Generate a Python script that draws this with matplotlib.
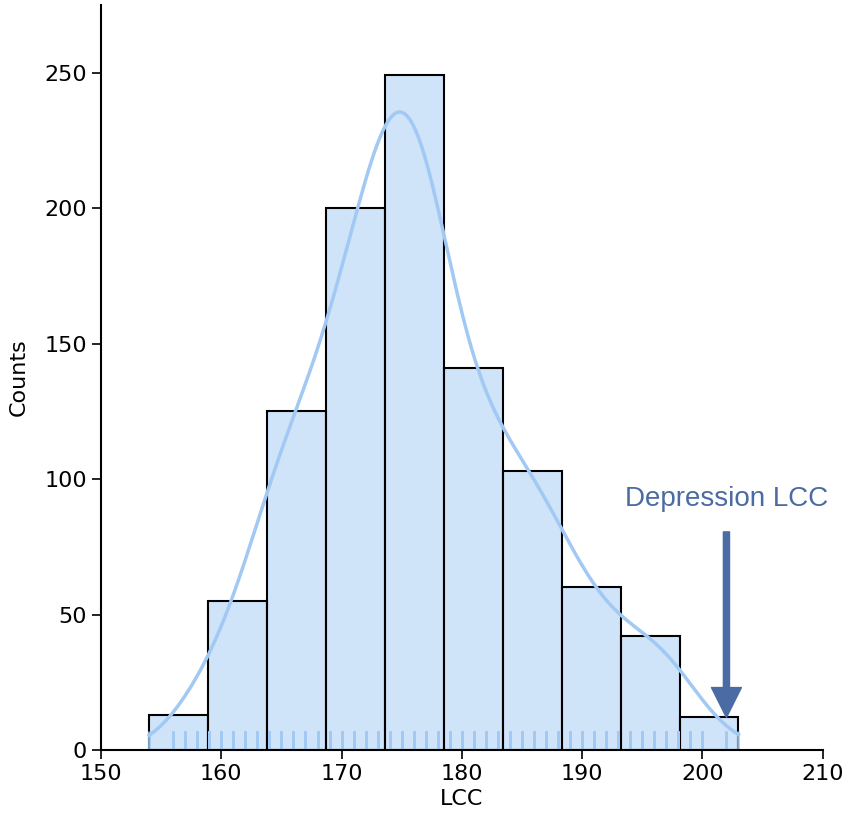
import numpy as np
import matplotlib
matplotlib.use("Agg")
import matplotlib.pyplot as plt
import seaborn as sns

# Integer LCC values and how many subjects had each value (estimated)
lcc_values = [154, 155, 156, 157, 158,
              159, 160, 161, 162, 163,
              164, 165, 166, 167, 168,
              169, 170, 171, 172, 173,
              174, 175, 176, 177, 178,
              179, 180, 181, 182, 183,
              184, 185, 186, 187, 188,
              189, 190, 191, 192, 193,
              194, 195, 196, 197, 198,
              199, 200, 201, 202, 203]
lcc_counts = [1, 0, 2, 4, 6,
              6, 8, 10, 14, 17,
              21, 24, 26, 27, 27,
              33, 36, 39, 43, 49,
              51, 54, 53, 50, 41,
              34, 30, 27, 25, 25,
              23, 22, 21, 19, 18,
              15, 13, 12, 10, 10,
              9, 9, 9, 8, 7,
              5, 4, 0, 2, 1]
depression_lcc = 202
depression_label = "Depression LCC"

data = np.repeat(lcc_values, lcc_counts)

fig = plt.figure(figsize=(8.51, 8.26), dpi=100)
ax = fig.add_axes([0.1187, 0.092, 0.848, 0.902])

sns.histplot(data, bins=10, kde=True, ax=ax, color="#a1c9f4",
             edgecolor="black", linewidth=1.5, alpha=0.5,
             line_kws=dict(linewidth=2.5))
ax.lines[0].set_color("#a1c9f4")
sns.rugplot(data, ax=ax, color="#a1c9f4", height=0.025, linewidth=2, alpha=0.85)

ax.annotate("", xy=(depression_lcc, 12), xytext=(depression_lcc, 80.5),
            arrowprops=dict(arrowstyle="simple,head_length=0.98,head_width=0.98,tail_width=0.2",
                            color="#4a6ba3", mutation_scale=22, shrinkA=0, shrinkB=0))
ax.text(depression_lcc, 90, depression_label, ha="center", va="baseline",
        fontsize=20, color="#4a6ba3", family="Liberation Sans")

ax.set_xlim(150, 210)
ax.set_ylim(0, 275)
ax.set_xticks([150, 160, 170, 180, 190, 200, 210])
ax.set_yticks([0, 50, 100, 150, 200, 250])
ax.tick_params(labelsize=16, length=6.5, width=1.2)
ax.set_xlabel("LCC", fontsize=16)
ax.set_ylabel("Counts", fontsize=16, labelpad=11)
for s in ["top", "right"]:
    ax.spines[s].set_visible(False)
for s in ["left", "bottom"]:
    ax.spines[s].set_linewidth(1.5)

fig.savefig("out.png", dpi=100)
